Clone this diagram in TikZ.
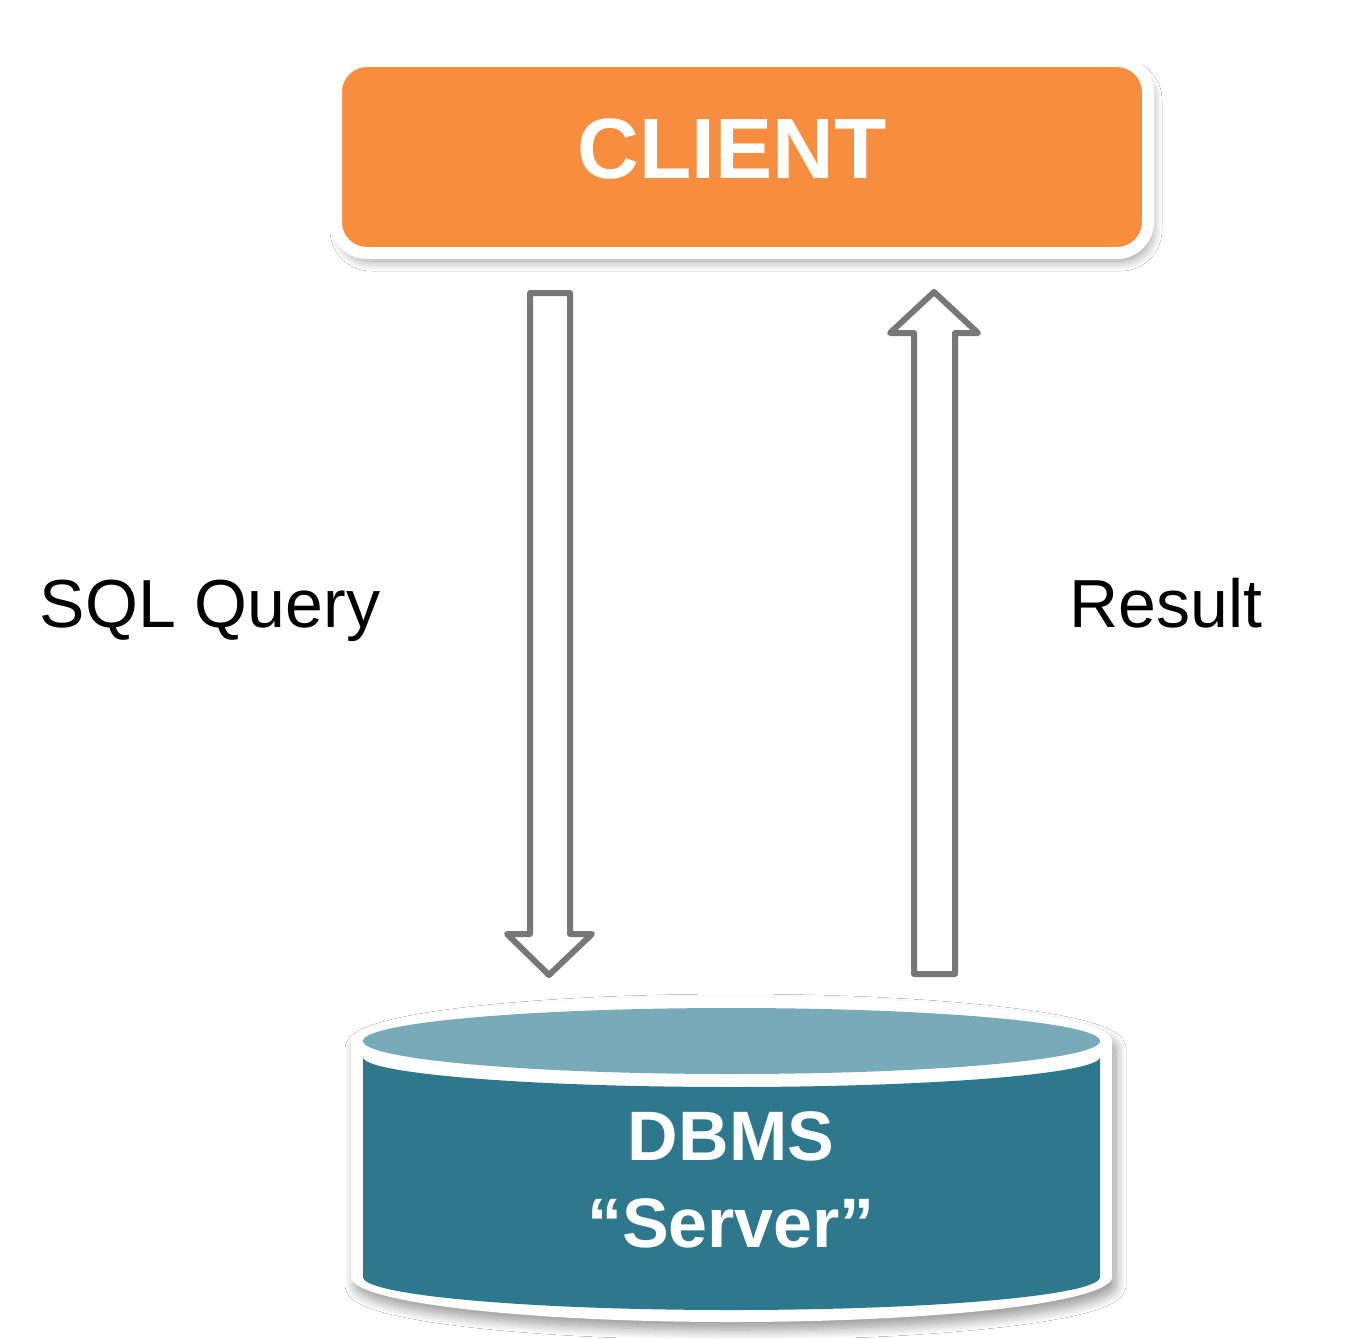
\documentclass[tikz,border=0pt]{standalone}
\usepackage{fontspec}
\setmainfont{Liberation Sans}
\usetikzlibrary{shadows.blur}
\definecolor{clientorange}{HTML}{F68D3F}
\definecolor{dbtop}{HTML}{78AAB9}
\definecolor{dbbody}{HTML}{2D788C}
\definecolor{arrowgray}{HTML}{777777}
\tikzset{
  softshadow/.style={blur shadow={shadow xshift=2pt, shadow yshift=-4pt, shadow blur radius=5pt, shadow blur steps=12, shadow opacity=40}},
  clientbox/.style={draw=white, line width=6pt, fill=clientorange, rounded corners=15.5pt,
    minimum width=406pt, minimum height=96pt, inner sep=0pt, text=white,
    font=\fontsize{42.8pt}{50pt}\selectfont\bfseries, softshadow},
  dbtext/.style={text=white, align=center, font=\fontsize{35pt}{43.5pt}\selectfont\bfseries},
  sidelabel/.style={text=black, anchor=base, font=\fontsize{34pt}{40pt}\selectfont},
  blockarrow/.style={draw=arrowgray, line width=3pt, line join=round, fill=white}
}
\begin{document}
\begin{tikzpicture}[x=0.5pt, y=-0.5pt]
\useasboundingbox[fill=white] (0,0) rectangle (1370,1338);

% client
\node[clientbox] (client) at (742,157) {CLIENT\hspace*{10pt}\rule[-8pt]{0pt}{0pt}};

% database cylinder
\fill[white, softshadow] (351,1041) arc[start angle=180, end angle=0, x radius=190.25pt, y radius=22.5pt]
  -- (1112,1277) arc[start angle=0, end angle=-180, x radius=190.25pt, y radius=22.5pt] -- cycle;
\fill[dbbody] (363,1057) -- (363,1277)
  arc[start angle=180, end angle=360, x radius=184.25pt, y radius=16.5pt]
  -- (1100,1057) arc[start angle=0, end angle=-180, x radius=184.25pt, y radius=15pt] -- cycle;
\fill[dbtop] (731.5,1041) ellipse[x radius=184.25pt, y radius=16.5pt];
\node[dbtext] (db) at (731,1180) {DBMS\\“Server”};

% arrows
\coordinate (qtop) at (550,293);
\coordinate (qtip) at (549,975);
\coordinate (rtip) at (934,292);
\coordinate (rbot) at (934.5,974);
\draw[blockarrow] ($(qtop)+(-20,0)$) -- ($(qtop)+(20,0)$) -- (570,934) -- (592,934) -- (qtip)
  -- (507,934) -- (530,934) -- cycle;
\draw[blockarrow] ($(rbot)+(-20.5,0)$) -- ($(rbot)+(20.5,0)$) -- (955,333) -- (978,333) -- (rtip)
  -- (890,333) -- (914,333) -- cycle;

% labels
\node[sidelabel] (sql) at (210,627) {SQL Query};
\node[sidelabel] (res) at (1166,627) {Result};
\end{tikzpicture}
\end{document}
